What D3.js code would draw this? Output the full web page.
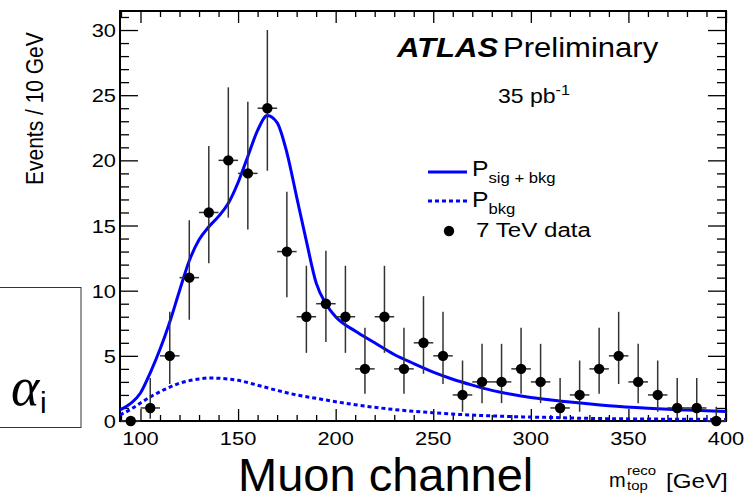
<!DOCTYPE html>
<html>
<head>
<meta charset="utf-8">
<script src="https://cdn.jsdelivr.net/npm/d3@7"></script>
<style>
  body { margin: 0; background: #fff; }
  svg { display: block; }
  text { font-family: "Liberation Sans", Arial, sans-serif; fill: #000; }
</style>
</head>
<body>
<svg id="chart" width="755" height="501"></svg>
<script>
// bins of 10 GeV, data counts and (asymmetric) error bars
var binCenters = [95,105,115,125,135,145,155,165,175,185,195,205,215,225,235,245,255,265,275,285,295,305,315,325,335,345,355,365,375,385,395];
var counts     = [0,1,5,11,16,20,19,24,13,8,9,8,4,8,4,6,5,2,3,3,4,3,1,2,4,5,3,2,1,1,0];
var errLow     = [0,0.83,2.16,3.23,3.9,4.4,4.3,4.8,3.5,2.77,2.94,2.77,1.91,2.77,1.91,2.38,2.16,1.29,1.63,1.63,1.91,1.63,0.83,1.29,1.91,2.16,1.63,1.29,0.83,0.83,0];
var errHigh    = [0,2.3,3.38,4.4,5.1,5.6,5.5,6.0,4.6,3.91,4.06,3.91,3.16,3.91,3.16,3.58,3.38,2.64,2.92,2.92,3.16,2.92,2.3,2.64,3.16,3.38,2.92,2.64,2.3,2.3,1.1];

// fitted templates
var sigMass = [89.5,95,100,105,110,115,120,125,130,135,140,145,150,155,160,165,170,175,180,185,190,195,200,210,220,230,240,250,260,270,280,290,300,320,340,360,380,400];
var sigVals = [0.85,1.35,2.15,3.7,5.5,7.6,10.0,12.3,13.9,14.9,15.7,16.7,18.3,20.3,22.3,23.45,22.9,20.6,17.2,13.8,10.6,9.0,8.0,6.9,6.0,5.1,4.4,3.75,3.2,2.75,2.35,2.05,1.8,1.45,1.17,0.98,0.84,0.72];
var bkgMass = [89.5,95,100,105,110,115,120,125,130,135,140,145,150,160,170,180,190,200,210,220,230,240,250,260,275,290,310,330,360,400];
var bkgVals = [0.46,0.9,1.38,1.85,2.25,2.6,2.9,3.1,3.23,3.3,3.28,3.22,3.12,2.75,2.35,2.0,1.74,1.48,1.25,1.05,0.88,0.74,0.63,0.53,0.42,0.34,0.27,0.2,0.15,0.12];

var xMajor = [100,150,200,250,300,350,400];
var yMajor = [0,5,10,15,20,25,30];

var frame = {left: 120, top: 11, right: 726, bottom: 421};
var stretch = 1.15;  // ROOT text is a bit wider than Liberation Sans

var svg = d3.select("#chart");

var x = d3.scaleLinear().domain([89.5, 400]).range([frame.left, frame.right]);
var y = d3.scaleLinear().domain([0, 31.46]).range([frame.bottom, frame.top]);

var xMinor = d3.range(90, 401, 10).filter(function(v){ return v % 50 != 0; });
var yMinor = d3.range(0, 32, 1).filter(function(v){ return v % 5 != 0; });

// ticks, all pointing inside the frame
function tickAxis(axis, pos, values, size) {
  var g = svg.append("g")
      .attr("transform", pos)
      .call(axis.tickValues(values).tickSizeInner(-size).tickSizeOuter(0).tickFormat(""));
  g.select(".domain").remove();
  g.selectAll("line").attr("stroke", "#000").attr("stroke-width", 1.3);
  return g;
}
tickAxis(d3.axisBottom(x), "translate(0," + frame.bottom + ")", xMinor, 6);
tickAxis(d3.axisBottom(x), "translate(0," + frame.bottom + ")", xMajor, 12);
tickAxis(d3.axisTop(x), "translate(0," + frame.top + ")", xMinor, 6);
tickAxis(d3.axisTop(x), "translate(0," + frame.top + ")", xMajor, 12);
tickAxis(d3.axisLeft(y), "translate(" + frame.left + ",0)", yMinor, 9);
tickAxis(d3.axisLeft(y), "translate(" + frame.left + ",0)", yMajor, 18);
tickAxis(d3.axisRight(y), "translate(" + frame.right + ",0)", yMinor, 9);
tickAxis(d3.axisRight(y), "translate(" + frame.right + ",0)", yMajor, 18);

// tick labels
svg.append("g").selectAll("text")
    .data(xMajor)
  .enter().append("text")
    .attr("transform", function(d){ return "translate(" + x(d) + ",445) scale(" + stretch + ",1)"; })
    .attr("text-anchor", "middle")
    .style("font-size", "19px")
    .text(function(d){ return d; });

svg.append("g").selectAll("text")
    .data(yMajor)
  .enter().append("text")
    .attr("transform", function(d){ return "translate(" + (frame.left - 4) + "," + (y(d) + 7) + ") scale(" + stretch + ",1)"; })
    .attr("text-anchor", "end")
    .style("font-size", "19px")
    .text(function(d){ return d; });

svg.append("rect")
    .attr("x", frame.left).attr("y", frame.top)
    .attr("width", frame.right - frame.left).attr("height", frame.bottom - frame.top)
    .attr("fill", "none").attr("stroke", "#000").attr("stroke-width", 2);

svg.append("clipPath").attr("id", "clip")
  .append("rect")
    .attr("x", frame.left).attr("y", frame.top)
    .attr("width", frame.right - frame.left).attr("height", frame.bottom - frame.top);

// curves
var line = d3.line()
    .x(function(d){ return x(d[0]); })
    .y(function(d){ return y(d[1]); })
    .curve(d3.curveMonotoneX);

svg.append("path")
    .datum(d3.zip(bkgMass, bkgVals))
    .attr("clip-path", "url(#clip)")
    .attr("fill", "none").attr("stroke", "#0000ff").attr("stroke-width", 3)
    .attr("stroke-dasharray", "4,3")
    .attr("d", line);

svg.append("path")
    .datum(d3.zip(sigMass, sigVals))
    .attr("clip-path", "url(#clip)")
    .attr("fill", "none").attr("stroke", "#0000ff").attr("stroke-width", 3)
    .attr("d", line);

// data points
var pts = binCenters.map(function(m, i){
  return {m: m, n: counts[i], lo: errLow[i], hi: errHigh[i]};
});
var dots = svg.append("g").selectAll("g")
    .data(pts)
  .enter().append("g");

dots.filter(function(d){ return d.lo + d.hi > 0; }).append("line")
    .attr("x1", function(d){ return x(d.m); }).attr("x2", function(d){ return x(d.m); })
    .attr("y1", function(d){ return y(d.n - d.lo); })
    .attr("y2", function(d){ return y(d.n + d.hi); })
    .attr("stroke", "#333").attr("stroke-width", 1.5);

dots.append("line")
    .attr("x1", function(d){ return x(d.m - 5); }).attr("x2", function(d){ return x(d.m + 5); })
    .attr("y1", function(d){ return y(d.n); }).attr("y2", function(d){ return y(d.n); })
    .attr("stroke", "#333").attr("stroke-width", 1.5);

dots.append("circle")
    .attr("cx", function(d){ return x(d.m); })
    .attr("cy", function(d){ return y(d.n); })
    .attr("r", 5.2)
    .attr("fill", "#000");

// labels
function label(px, py, size) {
  return svg.append("text")
      .attr("transform", "translate(" + px + "," + py + ") scale(" + stretch + ",1)")
      .style("font-size", size + "px");
}

label(397, 57, 27).style("font-weight", "bold").style("font-style", "italic").text("ATLAS");
label(503, 57, 27).text("Preliminary");

var lumi = label(498, 103, 20).text("35 pb");
lumi.append("tspan").attr("dy", -8).style("font-size", "14px").text("-1");

// legend
svg.append("line").attr("x1", 428).attr("x2", 467).attr("y1", 172).attr("y2", 172)
    .attr("stroke", "#0000ff").attr("stroke-width", 3);
svg.append("line").attr("x1", 428).attr("x2", 467).attr("y1", 201).attr("y2", 201)
    .attr("stroke", "#0000ff").attr("stroke-width", 3).attr("stroke-dasharray", "4,3");
svg.append("circle").attr("cx", 449).attr("cy", 231).attr("r", 5.2).attr("fill", "#000");

var l1 = label(472, 176, 21.5).text("P");
l1.append("tspan").attr("dy", 7).style("font-size", "14.5px").text("sig + bkg");
var l2 = label(472, 207, 21.5).text("P");
l2.append("tspan").attr("dy", 7).style("font-size", "14.5px").text("bkg");
label(476, 237, 21).text("7 TeV data");

// axis titles
svg.append("text")
    .attr("transform", "translate(43,185) rotate(-90) scale(1," + stretch + ")")
    .style("font-size", "21px")
    .text("Events / 10 GeV");

svg.append("text").attr("x", 609).attr("y", 487).style("font-size", "20px").text("m");
label(627, 475, 13).text("reco");
label(627, 490, 13).text("top");
label(666, 488, 21).text("[GeV]");

svg.append("text")
    .attr("x", 238).attr("y", 491)
    .style("font-size", "47px")
    .text("Muon channel");

// alpha box on the left
svg.append("rect")
    .attr("x", -5).attr("y", 287.5).attr("width", 86).attr("height", 140)
    .attr("fill", "none").attr("stroke", "#333").attr("stroke-width", 1);
svg.append("text")
    .attr("x", 11).attr("y", 405)
    .style("font-family", "'Liberation Serif', serif")
    .style("font-style", "italic")
    .style("font-size", "54px")
    .text("\u03b1");
svg.append("text")
    .attr("x", 40).attr("y", 413)
    .style("font-size", "30px")
    .text("i");
</script>
</body>
</html>
